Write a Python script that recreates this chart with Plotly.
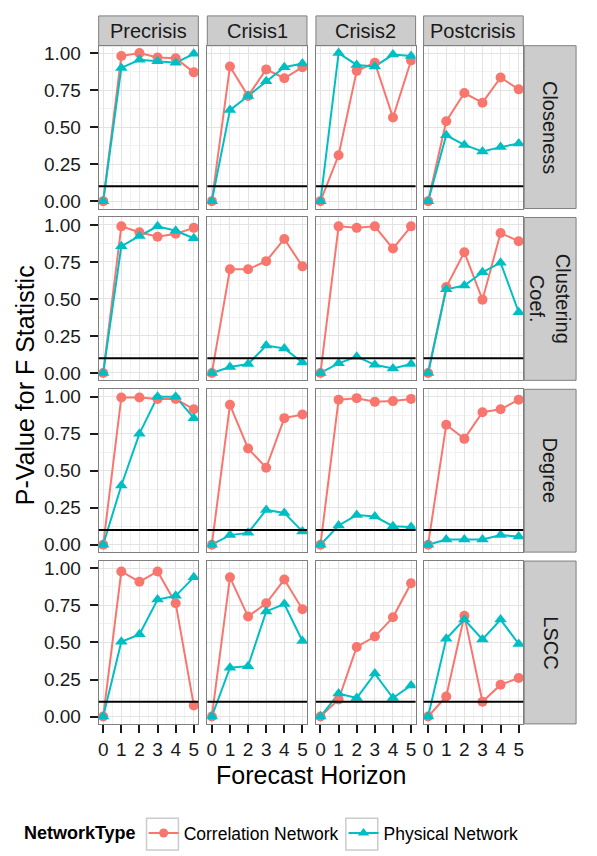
import plotly.graph_objects as go

W, H = 597, 856

# ---------------- data ----------------
columns = ["Precrisis", "Crisis1", "Crisis2", "Postcrisis"]
row_labels = ["Closeness", "Clustering<br>Coef.", "Degree", "LSCC"]
horizon = [0, 1, 2, 3, 4, 5]
tick_vals_y = [0.0, 0.25, 0.5, 0.75, 1.0]
threshold = 0.1

# each list: one series per column (Precrisis, Crisis1, Crisis2, Postcrisis)
corr_closeness = [
    [0, 0.98, 1.00, 0.97, 0.965, 0.87],
    [0, 0.91, 0.71, 0.89, 0.83, 0.905],
    [0, 0.31, 0.88, 0.935, 0.565, 0.95],
    [0, 0.54, 0.73, 0.665, 0.835, 0.755],
]
phys_closeness = [
    [0, 0.90, 0.955, 0.945, 0.935, 0.995],
    [0, 0.615, 0.71, 0.81, 0.905, 0.93],
    [0, 1.00, 0.92, 0.91, 0.99, 0.98],
    [0, 0.445, 0.38, 0.335, 0.365, 0.39],
]
corr_clustering = [
    [0, 0.99, 0.95, 0.92, 0.94, 0.98],
    [0, 0.70, 0.70, 0.755, 0.905, 0.72],
    [0, 0.99, 0.98, 0.99, 0.84, 0.99],
    [0, 0.58, 0.815, 0.495, 0.945, 0.89],
]
phys_clustering = [
    [0, 0.855, 0.925, 0.99, 0.96, 0.91],
    [0, 0.04, 0.06, 0.185, 0.165, 0.07],
    [0, 0.065, 0.11, 0.055, 0.03, 0.06],
    [0, 0.565, 0.59, 0.68, 0.745, 0.41],
]
corr_degree = [
    [0, 0.995, 0.995, 0.985, 0.985, 0.915],
    [0, 0.945, 0.65, 0.52, 0.855, 0.88],
    [0, 0.98, 0.99, 0.965, 0.97, 0.985],
    [0, 0.81, 0.715, 0.895, 0.915, 0.98],
]
phys_degree = [
    [0, 0.40, 0.75, 1.00, 1.00, 0.855],
    [0, 0.065, 0.08, 0.235, 0.215, 0.09],
    [0, 0.13, 0.20, 0.19, 0.125, 0.12],
    [0, 0.035, 0.035, 0.035, 0.065, 0.055],
]
corr_lscc = [
    [0, 0.98, 0.91, 0.98, 0.765, 0.075],
    [0, 0.94, 0.675, 0.765, 0.925, 0.725],
    [0, 0.115, 0.47, 0.54, 0.67, 0.90],
    [0, 0.135, 0.68, 0.10, 0.215, 0.26],
]
phys_lscc = [
    [0, 0.505, 0.555, 0.79, 0.815, 0.94],
    [0, 0.33, 0.34, 0.71, 0.76, 0.51],
    [0, 0.155, 0.125, 0.29, 0.125, 0.21],
    [0, 0.525, 0.655, 0.52, 0.655, 0.49],
]

corr_rows = [corr_closeness, corr_clustering, corr_degree, corr_lscc]
phys_rows = [phys_closeness, phys_clustering, phys_degree, phys_lscc]

# ---------------- style ----------------
RED = "#F8766D"
CYAN = "#00BFC4"
FONT = "Liberation Sans, Arial, Helvetica, sans-serif"
BORDER = "#7F7F7F"
STRIP = "#CCCCCC"
TXT = "#1a1a1a"

col_px = [(98, 198), (207, 307), (316, 416), (424, 524)]
row_px = [(43, 207), (216, 380), (389, 553), (562, 726)]
strip_top = (13, 43)
strip_right = (525, 577)
legend_boxes = [(146, 178), (346, 378)]
legend_box_y = (821, 853)


def px_x(p):
    return p / W


def px_y(p):
    return 1 - p / H


fig = go.Figure()
shapes = []
annotations = []

for r in range(4):
    for c in range(4):
        k = r * 4 + c + 1
        xa = "x" if k == 1 else f"x{k}"
        ya = "y" if k == 1 else f"y{k}"
        xname = "xaxis" if k == 1 else f"xaxis{k}"
        yname = "yaxis" if k == 1 else f"yaxis{k}"
        x0, x1 = col_px[c]
        y0, y1 = row_px[r]
        fig.layout[xname] = dict(
            domain=[px_x(x0), px_x(x1)], anchor=ya, range=[-0.25, 5.25],
            tickmode="array", tickvals=horizon, ticktext=[str(h) for h in horizon],
            showticklabels=(r == 3), ticks="outside" if r == 3 else "",
            ticklen=8, tickwidth=2, tickcolor=TXT, ticklabelstandoff=0,
            showgrid=True, gridcolor="#E3E3E3", gridwidth=1,
            minor=dict(dtick=0.5, tick0=0, showgrid=True, gridcolor="#F2F2F2", gridwidth=1, ticks=""),
            zeroline=False, showline=True, mirror=True, linecolor=BORDER, linewidth=1,
            tickfont=dict(family=FONT, size=19, color=TXT), fixedrange=True,
        )
        fig.layout[yname] = dict(
            domain=[px_y(y1), px_y(y0)], anchor=xa, range=[-0.05, 1.05],
            tickmode="array", tickvals=tick_vals_y, ticktext=[f"{v:.2f}" for v in tick_vals_y],
            showticklabels=(c == 0), ticks="outside" if c == 0 else "",
            ticklen=8, tickwidth=2, tickcolor=TXT, ticklabelstandoff=5,
            showgrid=True, gridcolor="#E3E3E3", gridwidth=1,
            minor=dict(dtick=0.125, tick0=0, showgrid=True, gridcolor="#F2F2F2", gridwidth=1, ticks=""),
            zeroline=False, showline=True, mirror=True, linecolor=BORDER, linewidth=1,
            tickfont=dict(family=FONT, size=19, color=TXT), fixedrange=True,
        )
        # threshold line
        shapes.append(dict(type="line", xref=f"{xa} domain", yref=ya, x0=0, x1=1,
                           y0=threshold, y1=threshold, line=dict(color="black", width=2), layer="above"))
        # lines
        fig.add_trace(go.Scatter(x=horizon, y=corr_rows[r][c], xaxis=xa, yaxis=ya, mode="lines",
                                 line=dict(color=RED, width=2), showlegend=False, hoverinfo="skip"))
        fig.add_trace(go.Scatter(x=horizon, y=phys_rows[r][c], xaxis=xa, yaxis=ya, mode="lines",
                                 line=dict(color=CYAN, width=2), showlegend=False, hoverinfo="skip"))

# points on top
for r in range(4):
    for c in range(4):
        k = r * 4 + c + 1
        xa = "x" if k == 1 else f"x{k}"
        ya = "y" if k == 1 else f"y{k}"
        fig.add_trace(go.Scatter(x=horizon, y=corr_rows[r][c], xaxis=xa, yaxis=ya, mode="markers",
                                 marker=dict(color=RED, size=10, symbol="circle", line=dict(width=0)),
                                 showlegend=False))
        fig.add_trace(go.Scatter(x=horizon, y=phys_rows[r][c], xaxis=xa, yaxis=ya, mode="markers",
                                 marker=dict(color=CYAN, size=11, symbol="triangle-up", line=dict(width=0)),
                                 showlegend=False))

# legend entries
fig.add_trace(go.Scatter(x=[None], y=[None], mode="lines+markers", name="Correlation Network",
                         line=dict(color=RED, width=2), marker=dict(color=RED, size=9, symbol="circle")))
fig.add_trace(go.Scatter(x=[None], y=[None], mode="lines+markers", name="Physical Network",
                         line=dict(color=CYAN, width=2), marker=dict(color=CYAN, size=10, symbol="triangle-up")))

# legend key boxes (ggplot style)
for bx0, bx1 in legend_boxes:
    shapes.append(dict(type="rect", xref="paper", yref="paper", x0=px_x(bx0), x1=px_x(bx1),
                       y0=px_y(legend_box_y[1]), y1=px_y(legend_box_y[0]), fillcolor="white",
                       line=dict(color="#CCCCCC", width=1.5), layer="below"))

# strips
for c, name in enumerate(columns):
    x0, x1 = col_px[c]
    shapes.append(dict(type="rect", xref="paper", yref="paper", x0=px_x(x0), x1=px_x(x1),
                       y0=px_y(strip_top[1]), y1=px_y(strip_top[0]), fillcolor=STRIP,
                       line=dict(color=BORDER, width=1), layer="below"))
    annotations.append(dict(x=px_x((x0 + x1) / 2), y=px_y((strip_top[0] + strip_top[1]) / 2),
                            xref="paper", yref="paper", text=name, showarrow=False,
                            font=dict(family=FONT, size=20, color=TXT),
                            xanchor="center", yanchor="middle"))
for r, name in enumerate(row_labels):
    y0, y1 = row_px[r]
    shapes.append(dict(type="rect", xref="paper", yref="paper", x0=px_x(strip_right[0]),
                       x1=px_x(strip_right[1]), y0=px_y(y1), y1=px_y(y0), fillcolor=STRIP,
                       line=dict(color=BORDER, width=1), layer="below"))
    annotations.append(dict(x=px_x((strip_right[0] + strip_right[1]) / 2), y=px_y((y0 + y1) / 2),
                            xref="paper", yref="paper", text=name, showarrow=False, textangle=90,
                            font=dict(family=FONT, size=20, color=TXT),
                            xanchor="center", yanchor="middle"))

# axis titles
annotations.append(dict(x=px_x(311), y=px_y(777), xref="paper", yref="paper", text="Forecast Horizon",
                        showarrow=False, font=dict(family=FONT, size=25, color="black"),
                        xanchor="center", yanchor="middle"))
annotations.append(dict(x=px_x(24), y=px_y(385), xref="paper", yref="paper",
                        text="P-Value for F Statistic", showarrow=False, textangle=-90,
                        font=dict(family=FONT, size=25, color="black"),
                        xanchor="center", yanchor="middle"))

fig.update_layout(
    width=W, height=H, margin=dict(l=0, r=0, t=0, b=0),
    paper_bgcolor="white", plot_bgcolor="white",
    shapes=shapes, annotations=annotations,
    showlegend=True,
    legend=dict(orientation="h", x=px_x(21), y=px_y(836), xanchor="left", yanchor="middle",
                title=dict(text="<b>NetworkType</b>", font=dict(family=FONT, size=18, color="black")),
                font=dict(family=FONT, size=17.5, color="black"), bgcolor="rgba(0,0,0,0)",
                tracegroupgap=0, itemwidth=30),
    font=dict(family=FONT),
)

fig.write_html("out.html")
